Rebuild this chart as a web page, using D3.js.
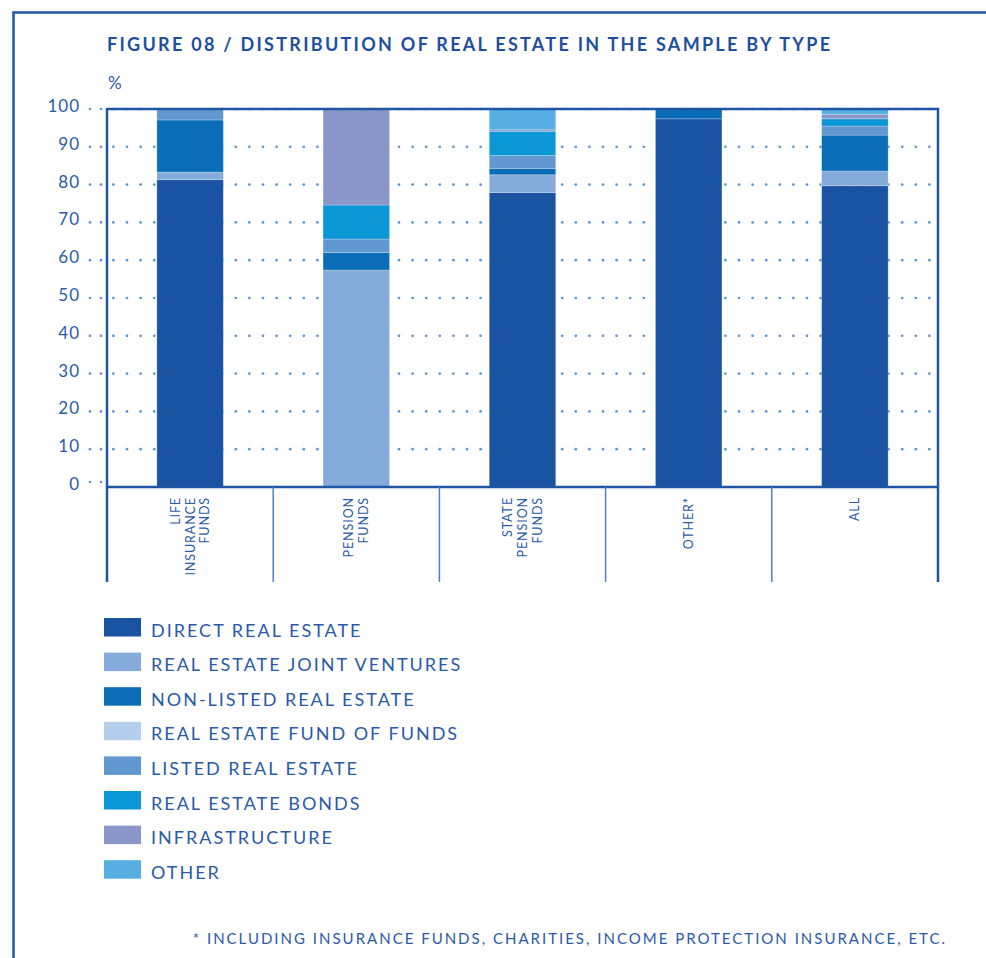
<!DOCTYPE html>
<html>
<head>
<meta charset="utf-8">
<script src="https://cdn.jsdelivr.net/npm/d3@7"></script>
<style>
  html, body { margin: 0; padding: 0; background: #fff; }
  svg { display: block; font-family: Lato, "Noto Sans", sans-serif; }
</style>
</head>
<body>
<svg id="chart" width="986" height="958"></svg>
<script>
// Fund types shown along the x axis (each split into the lines drawn under the axis)
const categories = ["LIFE INSURANCE FUNDS", "PENSION FUNDS", "STATE PENSION FUNDS", "OTHER*", "ALL"];
const categoryLines = [["LIFE", "INSURANCE", "FUNDS"], ["PENSION", "FUNDS"], ["STATE", "PENSION", "FUNDS"], ["OTHER*"], ["ALL"]];

// Share of real estate holdings by type, in % (stacked bottom to top)
const seriesNames = [
  "DIRECT REAL ESTATE", "REAL ESTATE JOINT VENTURES", "NON-LISTED REAL ESTATE",
  "REAL ESTATE FUND OF FUNDS", "LISTED REAL ESTATE", "REAL ESTATE BONDS",
  "INFRASTRUCTURE", "OTHER"
];
const directRealEstate   = [81.3,  0.0, 77.9, 97.4, 79.7];
const jointVentures      = [ 2.0, 57.4,  4.7,  0.0,  3.9];
const nonListed          = [13.8,  4.6,  1.7,  2.6,  9.5];
const fundOfFunds        = [ 0.0,  0.0,  0.0,  0.0,  0.0];
const listedRealEstate   = [ 2.9,  3.6,  3.4,  0.0,  2.4];
const realEstateBonds    = [ 0.0,  9.0,  6.4,  0.0,  1.9];
const infrastructure     = [ 0.0, 25.4,  0.4,  0.0,  1.2];
const otherHoldings      = [ 0.0,  0.0,  5.5,  0.0,  1.4];
const seriesColors = ["#1b53a3", "#84abd9", "#0b6db7", "#b4cfec", "#6298d0", "#0b96d6", "#8a96c8", "#56aee2"];

const yTicks = [0, 10, 20, 30, 40, 50, 60, 70, 80, 90, 100];

const seriesValues = [directRealEstate, jointVentures, nonListed, fundOfFunds,
                      listedRealEstate, realEstateBonds, infrastructure, otherHoldings];

// Table for d3.stack: one row per category, one column per series
const rows = categories.map((c, i) => {
  const r = { category: c };
  seriesNames.forEach((s, k) => { r[s] = seriesValues[k][i]; });
  return r;
});

const svg = d3.select("#chart");
const textColor = "#2a5aa8";
const frameColor = "#1f55a5";

const plot = { left: 107, right: 938, top: 109, bottom: 487, labelBottom: 582 };

const x = d3.scaleBand().domain(categories).range([plot.left, plot.right])
  .paddingInner(0.6).paddingOuter(0.3);
const y = d3.scaleLinear().domain([0, 100]).range([plot.bottom, plot.top]);

// Outer page frame (left and top rules)
svg.append("path")
  .attr("d", "M13.5,958 V12.5 H986")
  .attr("fill", "none").attr("stroke", frameColor).attr("stroke-width", 2.5);

// Title and unit
svg.append("text")
  .attr("x", 107).attr("y", 51)
  .attr("fill", "#1e4f9e").attr("font-size", 18).attr("font-weight", 700)
  .attr("textLength", 723).attr("lengthAdjust", "spacing")
  .text("FIGURE 08 / DISTRIBUTION OF REAL ESTATE IN THE SAMPLE BY TYPE");

svg.append("text")
  .attr("x", 108).attr("y", 89)
  .attr("fill", textColor).attr("font-size", 17)
  .text("%");

// Dotted gridlines with leader dots next to the tick labels
const gridDotsX = [90, 101].concat(d3.range(113.4, plot.right - 4, 13.6));
const grid = svg.append("g").attr("fill", "#5b95d6");
yTicks.forEach(t => {
  const yy = t === 0 ? y(t) - 5 : y(t);
  const xs = t === 0 ? [90, 101] : gridDotsX;
  grid.selectAll(null).data(xs).enter().append("circle")
    .attr("cx", d => d).attr("cy", yy).attr("r", 1.35);
});

// Y tick labels
svg.append("g").selectAll("text").data(yTicks).enter().append("text")
  .attr("x", 80).attr("y", d => y(d) + 3)
  .attr("text-anchor", "end")
  .attr("fill", textColor).attr("font-size", 17).attr("letter-spacing", 1)
  .text(d => d);

// Stacked bars
const stack = d3.stack().keys(seriesNames);
const layers = stack(rows);
svg.append("g").selectAll("g").data(layers).enter().append("g")
  .attr("fill", (d, i) => seriesColors[i])
  .selectAll("rect").data(d => d.filter(p => p[1] - p[0] > 0)).enter().append("rect")
  .attr("x", d => x(d.data.category))
  .attr("width", x.bandwidth())
  .attr("y", d => y(d[1]))
  .attr("height", d => y(d[0]) - y(d[1]))
  .attr("stroke", "rgba(255,255,255,0.3)").attr("stroke-width", 0.8);

// Plot frame: top, right, left axis and baseline
const frame = svg.append("g").attr("stroke", frameColor).attr("fill", "none");
frame.append("line").attr("x1", plot.left).attr("x2", plot.right + 1)
  .attr("y1", plot.top).attr("y2", plot.top).attr("stroke-width", 2.5);
frame.append("line").attr("x1", plot.left).attr("x2", plot.right)
  .attr("y1", plot.bottom).attr("y2", plot.bottom).attr("stroke-width", 2.5);
frame.append("line").attr("x1", plot.left).attr("x2", plot.left)
  .attr("y1", plot.top - 1).attr("y2", plot.labelBottom).attr("stroke-width", 2.5);
frame.append("line").attr("x1", plot.right).attr("x2", plot.right)
  .attr("y1", plot.top - 1).attr("y2", plot.labelBottom).attr("stroke-width", 2.5);

// Category dividers below the baseline
const step = x.step();
svg.append("g").selectAll("line").data(categories.slice(1)).enter().append("line")
  .attr("x1", d => x(d) - step * 0.3).attr("x2", d => x(d) - step * 0.3)
  .attr("y1", plot.bottom).attr("y2", plot.labelBottom)
  .attr("stroke", "#4f82c6").attr("stroke-width", 1.5);

// Rotated category labels
const catG = svg.append("g").selectAll("g").data(categories).enter().append("g")
  .attr("transform", (d, i) => {
    const n = categoryLines[i].length;
    const cx = x(d) + x.bandwidth() / 2 - (n - 1) * 14.7 / 2 + 4.5;
    return `translate(${cx},497) rotate(-90)`;
  });
catG.each(function(d, i) {
  const t = d3.select(this).append("text")
    .attr("text-anchor", "end")
    .attr("fill", textColor).attr("font-size", 12.5).attr("letter-spacing", 0.9);
  categoryLines[i].forEach((line, k) => {
    t.append("tspan").attr("x", 0).attr("y", k * 14.7).text(line);
  });
});

// Legend
const legend = svg.append("g").selectAll("g").data(seriesNames).enter().append("g")
  .attr("transform", (d, i) => `translate(104,${618 + i * 34.6})`);
legend.append("rect")
  .attr("width", 37).attr("height", 18.5)
  .attr("fill", (d, i) => seriesColors[i]);
legend.append("text")
  .attr("x", 47).attr("y", 18.5)
  .attr("fill", textColor).attr("font-size", 18).attr("letter-spacing", 2)
  .text(d => d);

// Footnote
svg.append("text")
  .attr("x", 947).attr("y", 944)
  .attr("text-anchor", "end")
  .attr("fill", textColor).attr("font-size", 15).attr("letter-spacing", 2)
  .text("* INCLUDING INSURANCE FUNDS, CHARITIES, INCOME PROTECTION INSURANCE, ETC.");
</script>
</body>
</html>
